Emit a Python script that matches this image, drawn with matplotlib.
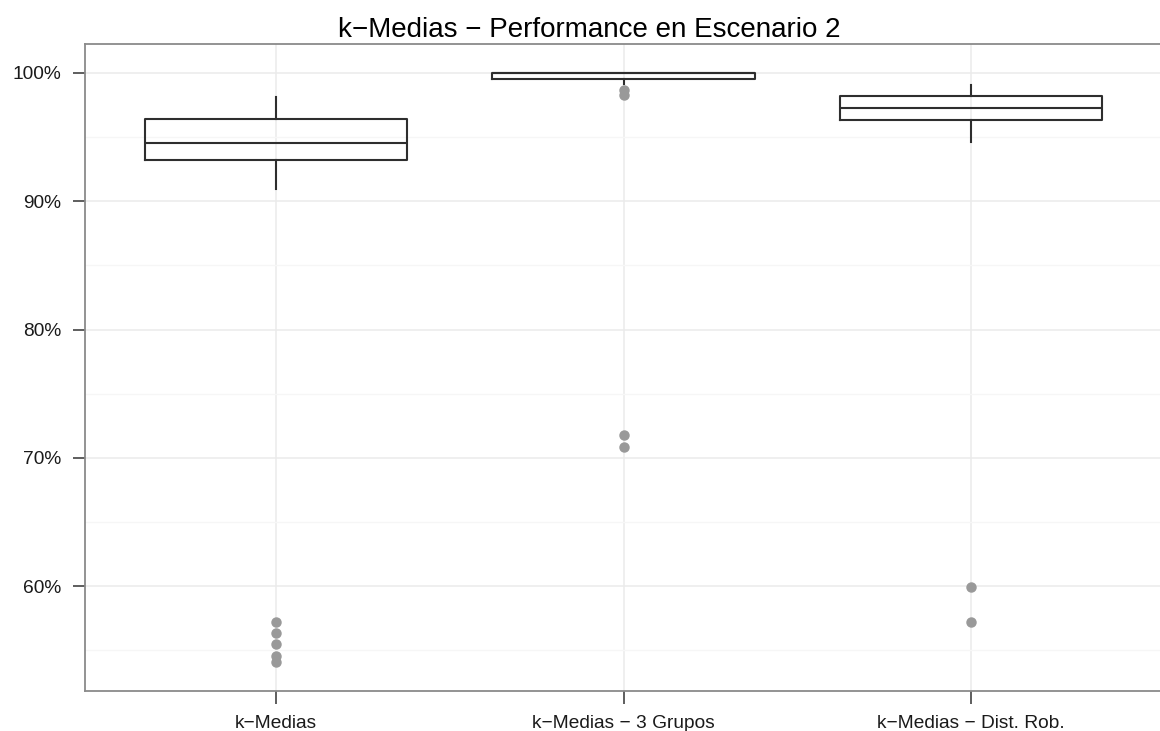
import matplotlib.pyplot as plt
from matplotlib.ticker import FixedLocator, FuncFormatter

plt.rcParams['font.family'] = ['Liberation Sans', 'DejaVu Sans']

# Resultados por método (porcentaje de aciertos)
metodos = ['k\u2212Medias', 'k\u2212Medias \u2212 3 Grupos', 'k\u2212Medias \u2212 Dist. Rob.']
q1 = [93.2, 99.55, 96.34]
mediana = [94.57, 100.0, 97.3]
q3 = [96.39, 100.0, 98.2]
bigote_inf = [90.96, 99.14, 94.62]
bigote_sup = [98.13, 100.0, 99.06]
atipicos = [
    [57.23, 56.38, 55.5, 54.58, 54.1],
    [98.67, 98.28, 71.81, 70.87],
    [59.97, 57.23],
]

W, H = 1160, 731
fig = plt.figure(figsize=(W / 100, H / 100), dpi=100)
ax = fig.add_axes([85 / W, 1 - 691 / H, (1162 - 85) / W, (691 - 44) / H])

stats = []
for i in range(len(metodos)):
    stats.append(dict(q1=q1[i], med=mediana[i], q3=q3[i],
                      whislo=bigote_inf[i], whishi=bigote_sup[i],
                      fliers=atipicos[i], label=metodos[i]))

linea = dict(color='#2E2E2E', linewidth=1.5)
ax.bxp(stats, positions=range(len(metodos)), widths=0.755,
       boxprops=linea, medianprops=linea, whiskerprops=linea,
       showcaps=False,
       flierprops=dict(marker='o', markersize=6.5, markerfacecolor='#999999',
                       markeredgecolor='#999999'),
       zorder=3)

ax.set_xlim(-0.55, 2.55)
ax.set_ylim(51.83, 102.26)
ax.yaxis.set_major_locator(FixedLocator([60, 70, 80, 90, 100]))
ax.yaxis.set_minor_locator(FixedLocator([55, 65, 75, 85, 95]))
ax.yaxis.set_major_formatter(FuncFormatter(lambda v, p: f'{v:.0f}%'))
ax.set_xticks(range(len(metodos)))
ax.set_xticklabels(metodos)

ax.grid(True, which='major', color='#EBEBEB', linewidth=1.1, zorder=0)
ax.grid(True, which='minor', axis='y', color='#F6F6F6', linewidth=1.0, zorder=0)
ax.set_axisbelow(True)

for lado in ['left', 'bottom', 'top']:
    ax.spines[lado].set_color('#8A8A8A')
    ax.spines[lado].set_linewidth(1.3)
ax.spines['right'].set_visible(False)

ax.tick_params(axis='both', which='major', length=9, width=1.1, color='#333333',
               labelsize=13.8, labelcolor='#1A1A1A')
ax.tick_params(axis='y', which='minor', length=0)
ax.tick_params(axis='y', pad=8)
ax.tick_params(axis='x', pad=8)

fig.text(0.508, 1 - 37 / H, 'k\u2212Medias \u2212 Performance en Escenario 2',
         ha='center', va='baseline', fontsize=20, color='black')

fig.savefig('out.png', dpi=100)
